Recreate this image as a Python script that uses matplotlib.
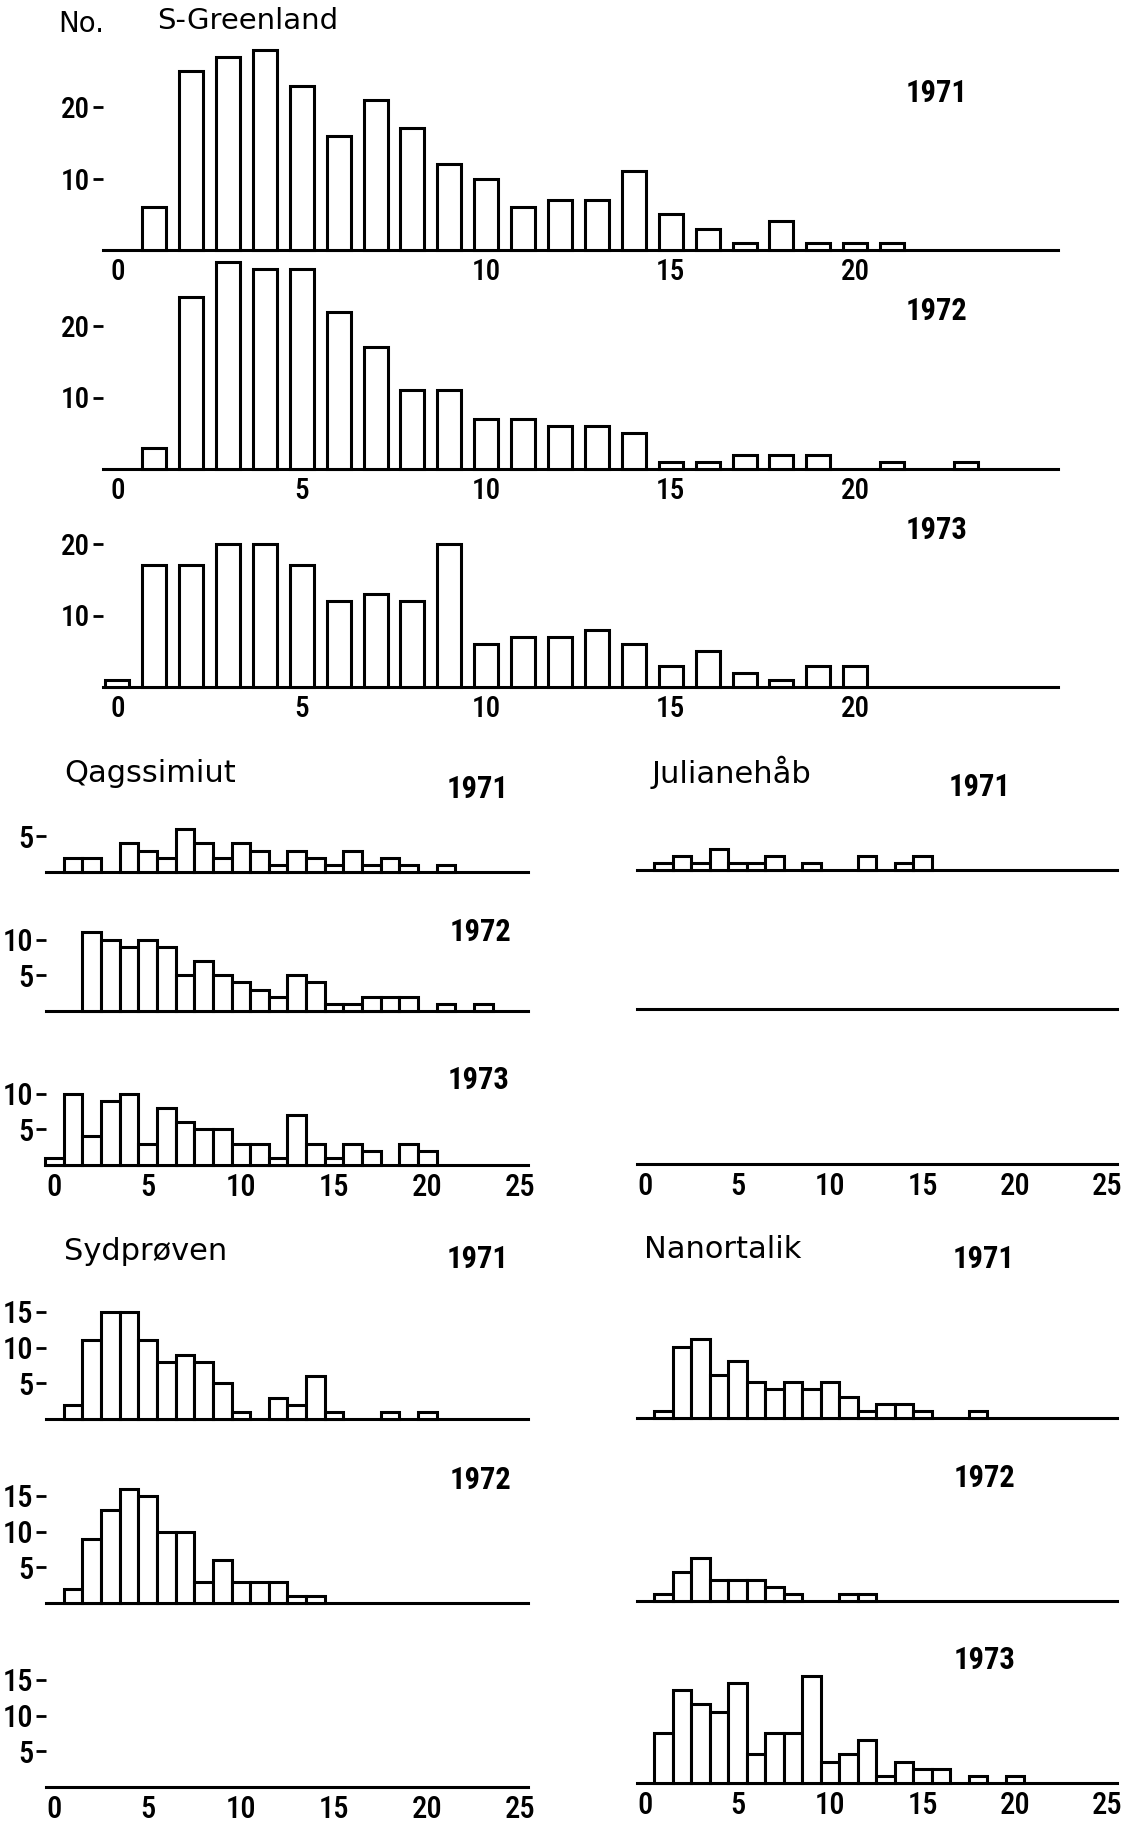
import numpy as np
import matplotlib.pyplot as plt

# number of fish per age group
sg_1971 = [0, 6, 25, 27, 28, 23, 16, 21, 17, 12, 10, 6, 7, 7, 11, 5, 3, 1, 4, 1, 1, 1]
sg_1972 = [0, 3, 24, 29, 28, 28, 22, 17, 11, 11, 7, 7, 6, 6, 5, 1, 1, 2, 2, 2, 0, 1, 0, 1]
sg_1973 = [1, 17, 17, 20, 20, 17, 12, 13, 12, 20, 6, 7, 7, 8, 6, 3, 5, 2, 1, 3, 3]

qag_1971 = [0, 2, 2, 0, 4, 3, 2, 6, 4, 2, 4, 3, 1, 3, 2, 1, 3, 1, 2, 1, 0, 1]
qag_1972 = [0, 0, 11, 10, 9, 10, 9, 5, 7, 5, 4, 3, 2, 5, 4, 1, 1, 2, 2, 2, 0, 1, 0, 1]
qag_1973 = [1, 10, 4, 9, 10, 3, 8, 6, 5, 5, 3, 3, 1, 7, 3, 1, 3, 2, 0, 3, 2]

jul_1971 = [0, 1, 2, 1, 3, 1, 1, 2, 0, 1, 0, 0, 2, 0, 1, 2]

syd_1971 = [0, 2, 11, 15, 15, 11, 8, 9, 8, 5, 1, 0, 3, 2, 6, 1, 0, 0, 1, 0, 1]
syd_1972 = [0, 2, 9, 13, 16, 15, 10, 10, 3, 6, 3, 3, 3, 1, 1]

nan_1971 = [0, 1, 10, 11, 6, 8, 5, 4, 5, 4, 5, 3, 1, 2, 2, 1, 0, 0, 1]
nan_1972 = [0, 1, 4, 6, 3, 3, 3, 2, 1, 0, 0, 1, 1]
nan_1973 = [0, 7, 13, 11, 10, 14, 4, 7, 7, 15, 3, 4, 6, 1, 3, 2, 2, 0, 1, 0, 1]

top_xticks_1971 = [0, 10, 15, 20]
top_xticks = [0, 5, 10, 15, 20]
low_xticks = [0, 5, 10, 15, 20, 25]

W, H = 1126, 1821
YUNIT = 7.15  # pixels per fish
NUM_FONT = ["Roboto Condensed", "Liberation Sans Narrow", "Roboto", "DejaVu Sans"]
TXT_FONT = ["DejaVu Sans"]

fig = plt.figure(figsize=(W / 100, H / 100), dpi=100)
fig.patch.set_facecolor("white")


def panel(left, base, unit, xlim, ymax, values=None, width=1.0, yticks=(), xticks=None, lsize=22):
    span = xlim[1] - xlim[0]
    ax = fig.add_axes([left / W, (H - base) / H, span * unit / W, ymax * YUNIT / H])
    ax.patch.set_alpha(0)
    ax.set_xlim(*xlim)
    ax.set_ylim(0, ymax)
    for s in ("left", "top", "right"):
        ax.spines[s].set_visible(False)
    ax.spines["bottom"].set_linewidth(2.2)
    if values is not None:
        v = np.array(values)
        x = np.arange(len(v))
        m = v > 0
        ax.bar(x[m], v[m], width=width, facecolor="white", edgecolor="black",
               linewidth=2.2, clip_on=False, zorder=3)
    ax.set_yticks(list(yticks))
    ax.set_yticklabels([str(t) for t in yticks], family=NUM_FONT, fontsize=lsize,
                       weight="medium")
    ax.tick_params(axis="y", direction="out", length=7, width=2, pad=2)
    if xticks:
        ax.set_xticks(xticks)
        ax.set_xticklabels([str(t) for t in xticks], family=NUM_FONT, fontsize=lsize,
                           weight="medium")
    else:
        ax.set_xticks([])
    ax.tick_params(axis="x", length=0, pad=6)
    return ax


def label(x, y, s, size=22, family=TXT_FONT, weight="normal", ha="left"):
    fig.text(x / W, 1 - y / H, s, fontsize=size, family=family, weight=weight,
             ha=ha, va="center")


# S-Greenland, three years
tx = (-0.4, 25.5)
panel(102.5, 250, 36.9, tx, 30, sg_1971, 0.65, (10, 20), top_xticks_1971, 21)
panel(102.5, 469, 36.9, tx, 30, sg_1972, 0.65, (10, 20), top_xticks, 21)
panel(102.5, 687, 36.9, tx, 30, sg_1973, 0.65, (10, 20), top_xticks, 21)

# left column
lx = (-0.45, 25.4)
panel(46.1, 872, 18.64, lx, 16, qag_1971, yticks=(5,))
panel(46.1, 1011, 18.64, lx, 16, qag_1972, yticks=(5, 10))
panel(46.1, 1165, 18.64, lx, 16, qag_1973, yticks=(5, 10), xticks=low_xticks)
panel(46.1, 1419, 18.64, lx, 16, syd_1971, yticks=(5, 10, 15))
panel(46.1, 1603, 18.64, lx, 16, syd_1972, yticks=(5, 10, 15))
panel(46.1, 1787, 18.64, lx, 16, None, yticks=(5, 10, 15), xticks=low_xticks)

# right column
rx = (-0.45, 25.5)
panel(636.7, 870, 18.5, rx, 16, jul_1971)
panel(636.7, 1009, 18.5, rx, 16, None)
panel(636.7, 1164, 18.5, rx, 16, None, xticks=low_xticks)
panel(636.7, 1418, 18.5, rx, 16, nan_1971)
panel(636.7, 1601, 18.5, rx, 16, nan_1972)
panel(636.7, 1783, 18.5, rx, 16, nan_1973, xticks=low_xticks)

# titles and year labels
label(58, 24, "No.", size=20)
label(157, 21, "S-Greenland", size=21)
for y, yr in [(93, "1971"), (311, "1972"), (530, "1973")]:
    label(937, y, yr, size=22, family=NUM_FONT, weight="bold", ha="center")

label(64, 774, "Qagssimiut")
label(652, 772, "Julianehåb")
label(64, 1251, "Sydprøven")
label(644, 1249, "Nanortalik")
for x, y, yr in [(478, 789, "1971"), (481, 932, "1972"), (479, 1080, "1973"),
                 (980, 787, "1971"),
                 (478, 1259, "1971"), (481, 1480, "1972"),
                 (984, 1259, "1971"), (985, 1478, "1972"), (985, 1660, "1973")]:
    label(x, y, yr, size=22, family=NUM_FONT, weight="bold", ha="center")

fig.savefig("out.png", dpi=100, facecolor="white")
